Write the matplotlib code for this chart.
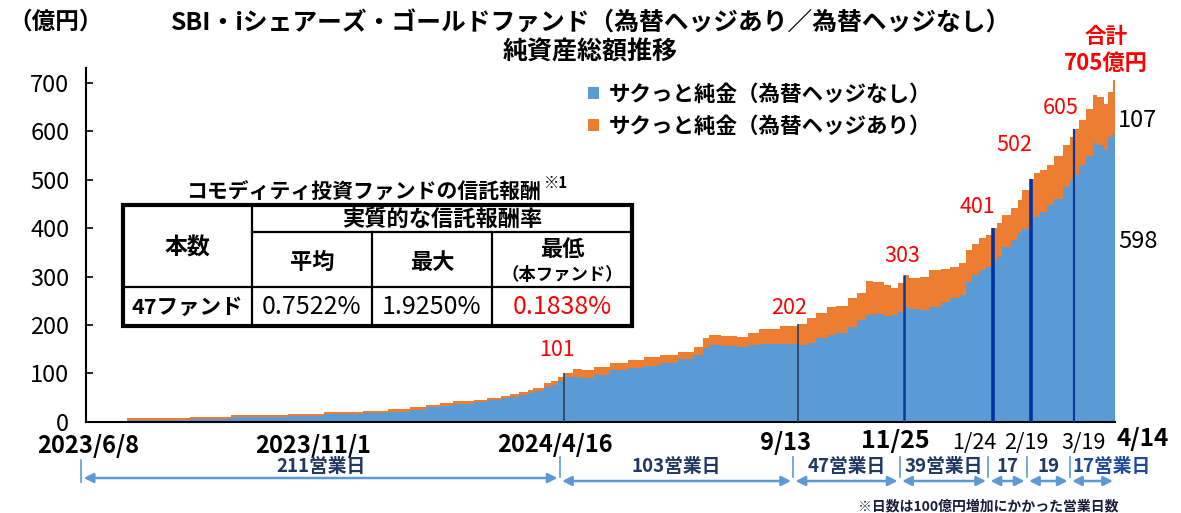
import numpy as np
import matplotlib
matplotlib.use('Agg')
import matplotlib.pyplot as plt
from matplotlib.patches import Rectangle

plt.rcParams['font.family'] = ['Noto Sans CJK JP', 'DejaVu Sans']

# ===================== データ =====================
# 営業日インデックス（2023/6/8 = 0）、各値はその営業日からの純資産
DAYS = [0, 18, 46, 64, 89, 105, 122, 133, 143, 150, 156, 162, 171, 177, 183, 187,
        191, 195, 197, 202, 205, 208, 211, 215, 219, 224, 231, 239, 246, 253, 261,
        268, 272, 275, 280, 284, 287, 292, 297, 306, 314, 318, 322, 327, 331, 336,
        340, 344, 347, 352, 355, 358, 361, 363, 368, 372, 377, 381, 385, 388, 391,
        394, 397, 400, 402, 404, 408, 411, 413, 417, 418, 421, 424, 427, 431, 434,
        436, 438, 441, 444, 446, 449, 451, 453]
END_DAY = 454  # 最終営業日の右端

# サクっと純金（為替ヘッジなし）億円
NASHI = [0.5, 3, 6, 10, 12, 16, 18.5, 21, 25, 29.5, 33, 37, 40, 44, 49, 52,
         56, 59, 62.5, 71.5, 76, 85, 93, 93, 91, 97, 107, 111, 115.5, 121, 129,
         138, 153, 158, 157, 156, 155, 158, 160, 160, 159, 163.5, 172.5, 179, 183, 196,
         210, 220, 222, 218, 220, 227, 236, 233, 231, 238, 248, 255, 262, 289, 303,
         313, 320, 334, 341, 361, 375, 389, 399, 418, 423, 434, 447, 461, 485, 499,
         510, 530, 550, 575, 571, 561, 588, 598]

# サクっと純金（為替ヘッジあり）億円
ARI = [1.5, 4, 4, 4, 4.5, 4, 4.5, 6, 5, 5.5, 5.5, 5.5, 5, 6, 5, 6,
       5, 5.5, 7, 8.5, 9, 8, 8, 15, 15, 16, 15, 17, 17.5, 16.5, 16,
       17, 19, 22, 21, 22, 21, 26, 32, 37, 43, 50.5, 51.5, 57, 56, 59,
       55, 70, 67, 64, 56, 59, 67, 63, 69, 75, 67, 65, 65, 66, 65,
       66, 66, 67, 69, 66, 66, 69, 79, 84, 90, 86, 83, 87, 86, 89,
       95, 93, 97, 99, 100, 96, 93, 107]

# 100億円増加にかかった営業日数
SEG_DAYS = [211, 103, 47, 39, 17, 19, 17]
SEG_LABELS = ['211営業日', '103営業日', '47営業日', '39営業日', '17', '19', '17営業日']
MILESTONE_VALUES = [101, 202, 303, 401, 502, 605]
TOTAL_END = 705
NASHI_END = 598
ARI_END = 107

# 横軸の日付ラベル
DATE_LABELS = ['2023/6/8', '2023/11/1', '2024/4/16', '9/13', '11/25', '1/24', '2/19', '3/19', '4/14']
DATE_DAYS = [0, 100, 211, 314, 361, 400, 417, 436, 453]

# 信託報酬の表
TABLE_TITLE = 'コモディティ投資ファンドの信託報酬'
TABLE_HEAD = ['本数', '実質的な信託報酬率', '平均', '最大', '最低', '（本ファンド）']
TABLE_ROW = ['47ファンド', '0.7522%', '1.9250%', '0.1838%']

LEGEND_LABELS = ['サクっと純金（為替ヘッジなし）', 'サクっと純金（為替ヘッジあり）']
TITLE_1 = 'SBI・iシェアーズ・ゴールドファンド（為替ヘッジあり／為替ヘッジなし）'
TITLE_2 = '純資産総額推移'

# ===================== スタイル =====================
BLUE = '#5B9BD5'
ORANGE = '#ED7D31'
NAVY = '#1F3864'
ARROW_BLUE = '#5B9BD5'
LINE_COLORS = ['#2B3F63', '#2B3F63', '#0B3A9C', '#0033A0', '#0033A0', '#0B3A9C']
LINE_WIDTHS = [1.2, 1.2, 1.8, 2.6, 2.6, 1.6]

W, H = 1181, 513
AX_LEFT = 86
AX_BOTTOM = 421.7
PX_DAY = 2.267
PX_UNIT = 0.484
XMAX = 454
YMAX = 730
AX_H = YMAX * PX_UNIT


def ay(ypx):
    """画像のy座標(px) → 軸座標"""
    return (AX_BOTTOM - ypx) / AX_H


def main():
    fig = plt.figure(figsize=(W / 100, H / 100), dpi=100)
    ax = fig.add_axes([AX_LEFT / W, (H - AX_BOTTOM) / H, XMAX * PX_DAY / W, AX_H / H])

    edges = np.array(DAYS + [END_DAY])
    nashi = np.array(NASHI)
    ari = np.array(ARI)

    # 積み上げ面グラフ（営業日ごとの階段）
    h_blue = ax.stairs(nashi, edges, baseline=0, fill=True, color=BLUE, lw=0,
                       label=LEGEND_LABELS[0])
    h_orange = ax.stairs(nashi + ari, edges, baseline=nashi, fill=True, color=ORANGE, lw=0,
                         label=LEGEND_LABELS[1])

    ax.set_xlim(0, XMAX)
    ax.set_ylim(0, YMAX)
    ax.set_yticks(range(0, 701, 100))
    ax.set_xticks([])
    ax.tick_params(axis='y', direction='in', length=5, width=1.2, labelsize=17, pad=12)
    for s in ['top', 'right']:
        ax.spines[s].set_visible(False)
    for s in ['left', 'bottom']:
        ax.spines[s].set_linewidth(1.5)

    # 100億円到達ライン
    bounds = np.cumsum(SEG_DAYS)
    ax.vlines(bounds[:-1], 0, MILESTONE_VALUES, colors=LINE_COLORS, linewidths=LINE_WIDTHS, zorder=3)

    lab_off = [(-7, 23), (-9, 16), (-2, 19), (-15, 21), (-17, 34), (-14, 21)]
    for d, v, (dx, dy) in zip(bounds[:-1], MILESTONE_VALUES, lab_off):
        ax.annotate(str(v), xy=(d, v), xytext=(dx, dy), textcoords='offset pixels',
                    ha='center', va='center', color='red', fontsize=15.5)

    end = bounds[-1]
    ax.annotate('合計', xy=(end, TOTAL_END), xytext=(-7, 44), textcoords='offset pixels',
                ha='center', va='center', color='red', fontsize=15.5, weight='bold',
                annotation_clip=False)
    ax.annotate(f'{TOTAL_END}億円', xy=(end, TOTAL_END), xytext=(-7, 17), textcoords='offset pixels',
                ha='center', va='center', color='red', fontsize=16, weight='bold',
                annotation_clip=False)
    ax.annotate(str(ARI_END), xy=(end, TOTAL_END), xytext=(5, -40), textcoords='offset pixels',
                ha='left', va='center', fontsize=17, annotation_clip=False)
    ax.annotate(str(NASHI_END), xy=(end, NASHI_END), xytext=(5, -109), textcoords='offset pixels',
                ha='left', va='center', fontsize=17, annotation_clip=False)

    # 日付ラベル
    xt = ax.get_xaxis_transform()
    date_dx = [2, 0, -9, -12, -9, -19, -5, 9, 30]
    date_dy = [24, 24, 23, 21, 19.5, 21, 21, 21, 17]
    date_fs = [17, 17, 17, 17, 18, 15.5, 15.5, 15.5, 17.5]
    date_w = ['bold', 'bold', 'bold', 'bold', 'bold', 'normal', 'normal', 'normal', 'bold']
    for lab, d, dx, dy, fs, fw in zip(DATE_LABELS, DATE_DAYS, date_dx, date_dy, date_fs, date_w):
        ax.annotate(lab, xy=(d, 0), xycoords=xt, xytext=(dx, -dy), textcoords='offset pixels',
                    ha='center', va='center', fontsize=fs, weight=fw, annotation_clip=False)

    # 営業日数の矢印
    bars = np.concatenate([[0], bounds[:-1]]) - 2
    for i, lab in enumerate(SEG_LABELS):
        x0 = bars[i] + 1
        x1 = bars[i + 1] - 1 if i + 1 < len(bars) else end
        y_arr = ay(478 if i == 0 else 481)
        ax.annotate('', xy=(x1, y_arr), xytext=(x0, y_arr), xycoords=xt,
                    arrowprops=dict(arrowstyle='<|-|>', color=ARROW_BLUE, lw=1.8,
                                    mutation_scale=14, shrinkA=0, shrinkB=0),
                    annotation_clip=False)
        ytop, ybot = (460, 482) if i == 0 else (457, 477)
        ax.plot([bars[i], bars[i]], [ay(ytop), ay(ybot)], transform=xt, color=ARROW_BLUE,
                lw=1.2, clip_on=False)
        if i == len(SEG_LABELS) - 1:
            ax.text(bars[i] + 1, ay(466), lab, transform=xt, ha='left', va='center',
                    fontsize=13.5, weight='bold', color='#1F4A9A')
        else:
            ax.text((bars[i] + bars[i + 1]) / 2, ay(466), lab, transform=xt, ha='center',
                    va='center', fontsize=13.5, weight='bold', color=NAVY)

    # 凡例
    fig.legend(handles=[h_blue, h_orange], loc='upper left', bbox_to_anchor=(588 / W, 1 - 84 / H),
               frameon=False, prop={'size': 15.5, 'weight': 'bold'}, handlelength=0.5,
               handleheight=0.5, handletextpad=0.45, labelspacing=0.5, borderpad=0,
               borderaxespad=0)

    # ===================== 重ね描き（ピクセル座標） =====================
    ov = fig.add_axes([0, 0, 1, 1], zorder=5)
    ov.set_xlim(0, W)
    ov.set_ylim(H, 0)
    ov.axis('off')

    ov.text(8, 22, '（億円）', ha='left', va='center', fontsize=17, weight='bold')
    ov.text(591, 23, TITLE_1, ha='center', va='center', fontsize=17.8, weight='bold')
    ov.text(590, 52, TITLE_2, ha='center', va='center', fontsize=18, weight='bold')
    ov.text(988, 506, '※日数は100億円増加にかかった営業日数', ha='center', va='center',
            fontsize=10, weight='bold', color='#1A1A3A')

    # 表
    L, C1, C2, C3, R = 123, 252, 372, 492, 632
    T, M1, M2, B = 205, 232, 287, 326
    ov.text(363, 191, TABLE_TITLE, ha='center', va='center', fontsize=15, weight='bold')
    ov.text(556, 183, '※1', ha='center', va='center', fontsize=11, weight='bold')
    ov.add_patch(Rectangle((L, T), R - L, B - T, facecolor='white', edgecolor='black', lw=3, zorder=2))
    kw = dict(color='black', lw=1.6, zorder=3)
    ov.plot([C1, C1], [T, B], **kw)
    ov.plot([C2, C2], [M1, B], **kw)
    ov.plot([C3, C3], [M1, B], **kw)
    ov.plot([C1, R], [M1, M1], **kw)
    ov.plot([L, R], [M2, M2], **kw)

    tk = dict(ha='center', va='center', weight='bold', zorder=4)
    ov.text((L + C1) / 2, 248, TABLE_HEAD[0], fontsize=16.5, **tk)
    ov.text((C1 + R) / 2, 219, TABLE_HEAD[1], fontsize=16, **tk)
    ov.text((C1 + C2) / 2, 262, TABLE_HEAD[2], fontsize=16, **tk)
    ov.text((C2 + C3) / 2, 262, TABLE_HEAD[3], fontsize=16, **tk)
    ov.text((C3 + R) / 2, 250, TABLE_HEAD[4], fontsize=16, **tk)
    ov.text((C3 + R) / 2, 275, TABLE_HEAD[5], fontsize=12.5, **tk)

    cx = [(L + C1) / 2, (C1 + C2) / 2, (C2 + C3) / 2, (C3 + R) / 2]
    colors = ['black', 'black', 'black', 'red']
    for i, (x, s, c) in enumerate(zip(cx, TABLE_ROW, colors)):
        ov.text(x, 307, s, ha='center', va='center', fontsize=15.5 if i == 0 else 18,
                weight='bold' if i == 0 else 'normal', color=c, zorder=4)

    plt.savefig('out.png', dpi=100)
    plt.close()


if __name__ == '__main__':
    main()
